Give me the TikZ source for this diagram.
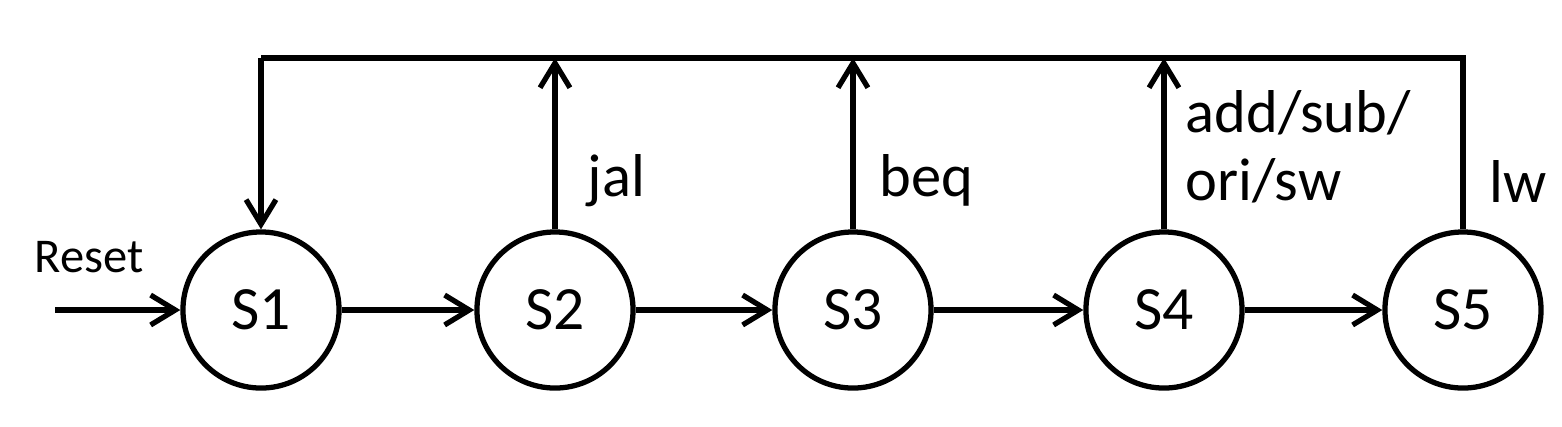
\documentclass[tikz,border=0pt]{standalone}
\usepackage{fontspec}
\setmainfont{Carlito}
\usetikzlibrary{arrows.meta}
\begin{document}
\begin{tikzpicture}[x=0.01cm,y=-0.01cm,
  line width=1.5pt,
  state/.style={circle,draw,line width=1.5pt,minimum size=1.56cm,inner sep=0pt,font=\fontsize{17.5}{20}\selectfont},
  lbl/.style={anchor=base west,inner sep=0pt,font=\fontsize{17.2}{20}\selectfont},
  arr/.style={-{Straight Barb[length=7pt,width=8.5pt,line width=1.5pt]}}]
\useasboundingbox (0,0) rectangle (1562,426);
\node[state] (s1) at (261,310) {S1};
\node[state] (s2) at (555,310) {S2};
\node[state] (s3) at (853,310) {S3};
\node[state] (s4) at (1164,310) {S4};
\node[state] (s5) at (1463,310) {S5};
\coordinate (rst) at (55,310);
\coordinate (tl) at (261,58);
\coordinate (tr) at (1463,58);
\coordinate (t2) at (555,58);
\coordinate (t3) at (853,58);
\coordinate (t4) at (1164,58);
\node[anchor=base,inner sep=0pt,font=\fontsize{13.8}{16}\selectfont] (reset) at (89,272) {Reset};
\draw[arr] (rst) -- (s1);
\draw[arr] (s1) -- (s2);
\draw[arr] (s2) -- (s3);
\draw[arr] (s3) -- (s4);
\draw[arr] (s4) -- (s5);
\draw (s5.north) -- (tr) -- (tl);
\draw[arr] (tl) -- (s1.north);
\draw[arr] (s2.north) -- (t2);
\draw[arr] (s3.north) -- (t3);
\draw[arr] (s4.north) -- (t4);
\node[lbl] (ljal) at (585,196) {jal};
\node[lbl] (lbeq) at (877,196) {beq};
\node[lbl] (ladd) at (1183,132) {add/sub/};
\node[lbl] (lori) at (1183,200) {ori/sw};
\node[lbl] (llw) at (1487,202) {lw};
\end{tikzpicture}
\end{document}
